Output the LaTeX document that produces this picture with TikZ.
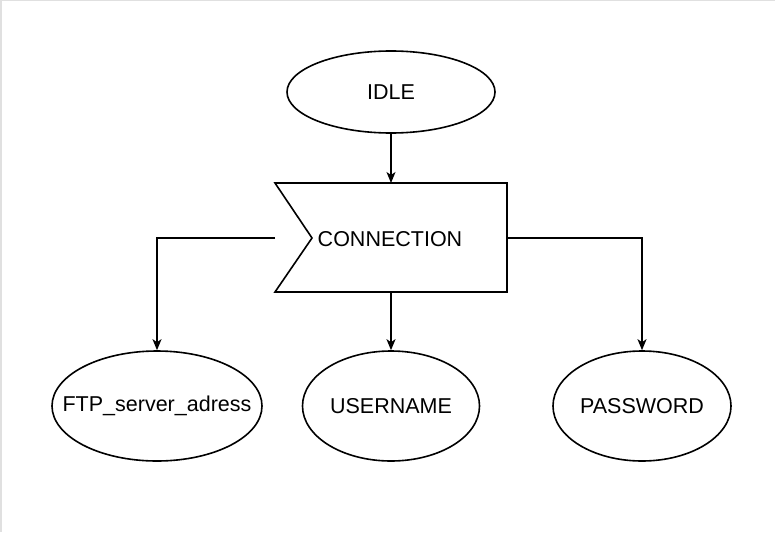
\documentclass[tikz,border=0pt]{standalone}
\usepackage{fontspec}
\setmainfont{Liberation Sans}
\usetikzlibrary{shapes.geometric,arrows.meta}
\begin{document}
\begin{tikzpicture}[x=1pt,y=-1pt,
  lbl/.style={font=\fontsize{21.5}{25}\selectfont},
  ell/.style={draw,line width=1.6pt,ellipse,inner sep=0pt,lbl},
  conn/.style={draw,line width=1.6pt,-{Stealth[length=11pt,width=9pt,inset=3pt]}}]
\useasboundingbox (0,0) rectangle (775,532);
\draw[line width=1.5pt,color=black!12] (0.75,532) -- (0.75,0.75) -- (775,0.75);
\node[ell,minimum width=208pt,minimum height=82pt] (idle) at (391,92) {\makebox[0pt]{IDLE}};
\coordinate (cA) at (275,183);
\coordinate (cB) at (507,183);
\coordinate (cC) at (507,292);
\coordinate (cD) at (275,292);
\coordinate (cN) at (312,238);
\draw[line width=1.6pt] (cA) -- (cB) -- (cC) -- (cD) -- (cN) -- cycle;
\node[lbl] (connection) at (390,239) {CONNECTION};
\coordinate (cL) at (275,238);
\coordinate (cR) at (507,238);
\coordinate (cT) at (391,183);
\coordinate (cBm) at (391,292);
\node[ell,minimum width=210pt,minimum height=110pt] (ftp) at (157,406) {\makebox[0pt]{FTP\_server\_adress}};
\node[ell,minimum width=177pt,minimum height=110pt] (user) at (391,406) {\makebox[0pt]{USERNAME}};
\node[ell,minimum width=178pt,minimum height=110pt] (pass) at (642,406) {\makebox[0pt]{PASSWORD}};
\draw[conn] (idle.south) -- (cT);
\draw[conn] (cL) -| (ftp.north);
\draw[conn] (cBm) -- (user.north);
\draw[conn] (cR) -| (pass.north);
\end{tikzpicture}
\end{document}
